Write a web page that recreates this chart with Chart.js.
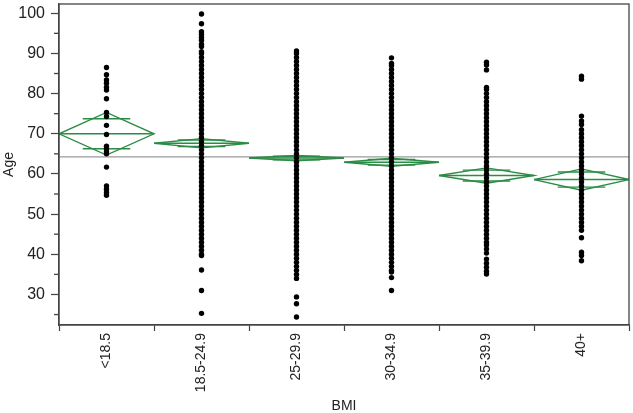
<!DOCTYPE html>
<html>
<head>
<meta charset="utf-8">
<script src="https://cdn.jsdelivr.net/npm/chart.js@4"></script>
<style>
  html, body { margin: 0; padding: 0; background: #fff; }
</style>
</head>
<body>
<canvas id="bmiChart" width="633" height="413"></canvas>
<script>
const categories = ['<18.5', '18.5-24.9', '25-29.9', '30-34.9', '35-39.9', '40+'];

// ages, one list per BMI group
const ageUnder185 = [86.5, 84.7, 83.4, 82.6, 81.6, 80.9, 78.7, 75.3, 74.3, 72.1, 69.8, 66.9, 66.2, 65.5, 65.0, 61.7, 57.0, 56.2, 55.4, 54.7];
const age185to249 = [99.8, 97.4, 95.4, 94.7, 94.0, 93.3, 92.3, 91.7, 90.4, 90, 89, 88, 87, 86, 85, 84, 83, 82, 81, 80, 79, 78, 77, 76, 75, 74, 73, 72, 71, 70, 69, 68, 67, 66, 65, 64, 63, 62, 61, 60, 59, 58, 57, 56, 55, 54, 53, 52, 51, 50, 49, 48, 47, 46, 45, 44, 43, 42, 41, 40, 39.7, 36.1, 31.0, 25.3];
const age25to299 = [90.6, 90, 89, 88, 87, 86, 85, 84, 83, 82, 81, 80, 79, 78, 77, 76, 75, 74, 73, 72, 71, 70, 69, 68, 67, 66, 65, 64, 63, 62, 61, 60, 59, 58, 57, 56, 55, 54, 53, 52, 51, 50, 49, 48, 47, 46, 45, 44, 43, 42, 41, 40, 39, 38, 37, 36, 35, 34, 29.4, 27.7, 24.4];
const age30to349 = [88.9, 87.5, 87, 86, 85, 84, 83, 82, 81, 80, 79, 78, 77, 76, 75, 74, 73, 72, 71, 70, 69, 68, 67, 66, 65, 64, 63, 62, 61, 60, 59, 58, 57, 56, 55, 54, 53, 52, 51, 50, 49, 48, 47, 46, 45, 44, 43, 42, 41, 40, 39, 38, 37, 36, 35.6, 34.2, 31.0];
const age35to399 = [87.8, 87.1, 85.9, 81.5, 81, 80, 79, 78, 77, 76, 75, 74, 73, 72, 71, 70, 69, 68, 67, 66, 65, 64, 63, 62, 61, 60, 59, 58, 57, 56, 55, 54, 53, 52, 51, 50, 49, 48, 47, 46, 45, 44, 43, 42.3, 41.3, 40.3, 38.8, 37.8, 36.8, 35.8, 35.1];
const age40plus = [84.3, 83.6, 74.4, 73.2, 72.3, 71.0, 70.0, 69.0, 68, 67, 66, 65, 64, 63, 62, 61, 60, 59, 58, 57, 56, 55, 54, 53, 52, 51, 50, 49, 48, 47, 46, 44.1, 40.5, 39.7, 38.4];

// means diamonds: group mean and 95% CI half-height
const groupMeans = [70.0, 67.65, 63.95, 62.9, 59.6, 58.6];
const groupCI = [5.3, 1.15, 0.65, 1.0, 1.9, 2.65];
const grandMean = 64.25;

const yTicks = [30, 40, 50, 60, 70, 80, 90, 100];
const minorTicks = [25, 35, 45, 55, 65, 75, 85, 95];

const ageGroups = [ageUnder185, age185to249, age25to299, age30to349, age35to399, age40plus];
const green = '#2b8c45';

const datasets = [];

ageGroups.forEach((ages, i) => {
  datasets.push({
    data: ages.map(a => ({ x: i, y: a })),
    xAxisID: 'x2',
    showLine: false,
    pointRadius: 2.7,
    pointBackgroundColor: '#000',
    pointBorderWidth: 0
  });
});

const lineStyle = {
  xAxisID: 'x2',
  showLine: true,
  borderColor: green,
  borderWidth: 1.4,
  pointRadius: 0,
  fill: false,
  tension: 0
};

groupMeans.forEach((m, i) => {
  const h = groupCI[i];
  const o = h / Math.SQRT2;
  datasets.push(Object.assign({
    data: [{ x: i - 0.5, y: m }, { x: i, y: m + h }, { x: i + 0.5, y: m }, { x: i, y: m - h }, { x: i - 0.5, y: m }]
  }, lineStyle));
  datasets.push(Object.assign({
    data: [{ x: i - 0.5, y: m }, { x: i + 0.5, y: m }]
  }, lineStyle));
  // overlap marks
  datasets.push(Object.assign({
    data: [{ x: i - 0.25, y: m + o }, { x: i + 0.25, y: m + o }]
  }, lineStyle));
  datasets.push(Object.assign({
    data: [{ x: i - 0.25, y: m - o }, { x: i + 0.25, y: m - o }]
  }, lineStyle));
});

datasets.push({
  data: [{ x: -0.5, y: grandMean }, { x: 5.5, y: grandMean }],
  xAxisID: 'x2',
  showLine: true,
  borderColor: '#9a9a9a',
  borderWidth: 1.2,
  pointRadius: 0
});

const framePlugin = {
  id: 'frame',
  afterDraw(chart) {
    const { ctx, chartArea: a, scales } = chart;
    ctx.save();
    ctx.strokeStyle = '#444';
    ctx.lineWidth = 1.3;
    ctx.strokeRect(a.left, a.top, a.right - a.left, a.bottom - a.top);
    minorTicks.forEach(v => {
      const py = scales.y.getPixelForValue(v);
      ctx.beginPath();
      ctx.moveTo(a.left - 5, py);
      ctx.lineTo(a.left, py);
      ctx.stroke();
    });
    ctx.restore();
  }
};

const font = { family: "'Liberation Sans', Arial, sans-serif" };

new Chart(document.getElementById('bmiChart').getContext('2d'), {
  type: 'scatter',
  data: { labels: categories, datasets: datasets },
  options: {
    responsive: false,
    animation: false,
    layout: { padding: { top: 2, right: 2, left: 0, bottom: 0 } },
    plugins: { legend: { display: false }, tooltip: { enabled: false } },
    scales: {
      x: {
        type: 'category',
        offset: true,
        grid: { offset: true, drawOnChartArea: false, tickLength: 6, tickColor: '#444', tickWidth: 1.2 },
        border: { color: '#444', width: 1.3 },
        ticks: { minRotation: 90, maxRotation: 90, autoSkip: false, padding: 2, color: '#222', font: Object.assign({ size: 14 }, font) },
        title: { display: true, text: 'BMI', color: '#222', padding: { top: 0, bottom: 0 }, font: Object.assign({ size: 14, lineHeight: 1 }, font) },
        afterFit: s => { s.height = 88; s.paddingLeft = 0; s.paddingRight = 0; }
      },
      x2: {
        type: 'linear',
        display: false,
        min: -0.5,
        max: 5.5
      },
      y: {
        min: 22.4,
        max: 102.3,
        grid: { drawOnChartArea: false, tickLength: 8, tickColor: '#444', tickWidth: 1.2 },
        border: { color: '#444', width: 1.3 },
        ticks: { padding: 6, color: '#222', font: Object.assign({ size: 16 }, font) },
        afterBuildTicks: s => { s.ticks = yTicks.map(v => ({ value: v })); },
        title: { display: true, text: 'Age', color: '#222', padding: 1, font: Object.assign({ size: 14 }, font) },
        afterFit: s => { s.width = 59; s.paddingTop = 0; s.paddingBottom = 0; }
      }
    }
  },
  plugins: [framePlugin]
});
</script>
</body>
</html>
